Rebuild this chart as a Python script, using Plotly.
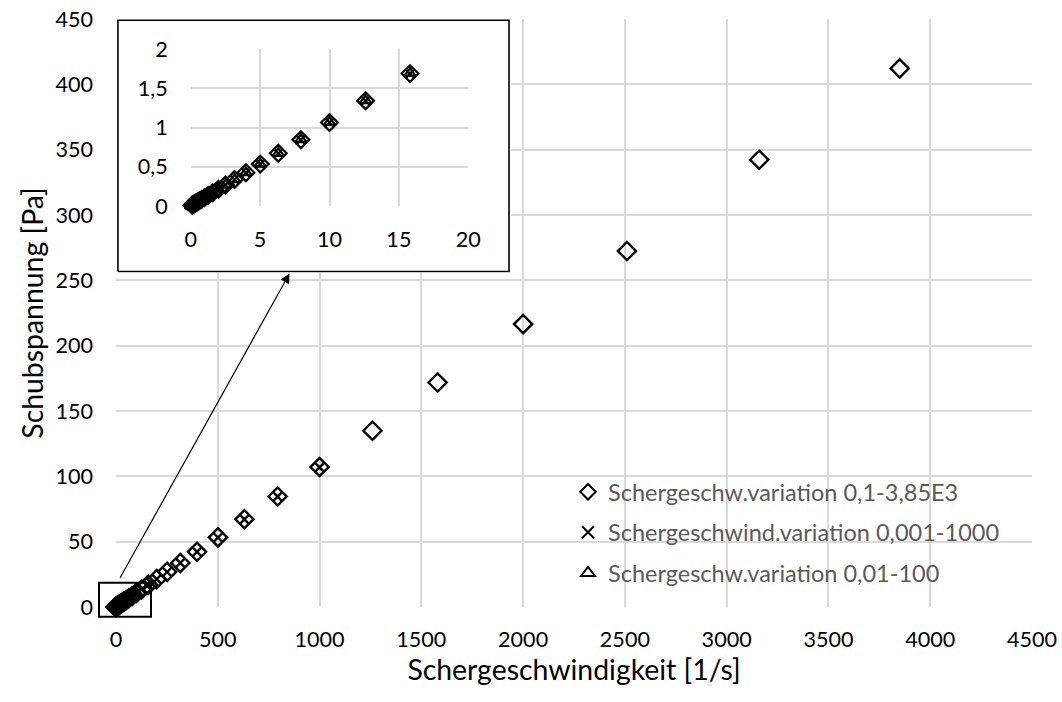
import plotly.graph_objects as go

# ---------------- data ----------------
# Series 1: Schergeschw.variation 0,1-3,85E3  (diamonds)
rate_d = [0.1, 0.126, 0.158, 0.2, 0.251, 0.316, 0.398, 0.501, 0.631, 0.794,
          1, 1.26, 1.58, 2, 2.51, 3.16, 3.98, 5.01, 6.31, 7.94,
          10, 12.6, 15.8, 20, 25.1, 31.6, 39.8, 50.1, 63.1, 79.4,
          100, 126, 158, 200, 251, 316, 398, 501, 631, 794,
          1000, 1260, 1580, 2000, 2510, 3160, 3850]
stress_d = [0.011, 0.014, 0.017, 0.021, 0.027, 0.034, 0.043, 0.054, 0.068, 0.085,
            0.107, 0.135, 0.169, 0.214, 0.268, 0.338, 0.425, 0.535, 0.673, 0.846,
            1.065, 1.343, 1.69, 2.13, 2.68, 3.37, 4.24, 5.34, 6.72, 8.46,
            10.7, 13.4, 16.9, 21.3, 26.9, 33.7, 42.3, 53.3, 67.2, 84.6,
            107.1, 134.9, 171.8, 216.5, 272.4, 342.3, 412.2]

# Series 2: Schergeschwind.variation 0,001-1000  (crosses)
rate_x = [0.001, 0.00126, 0.00158, 0.002, 0.00251, 0.00316, 0.00398, 0.00501, 0.00631, 0.00794,
          0.01, 0.0126, 0.0158, 0.02, 0.0251, 0.0316, 0.0398, 0.0501, 0.0631, 0.0794,
          0.1, 0.126, 0.158, 0.2, 0.251, 0.316, 0.398, 0.501, 0.631, 0.794,
          1, 1.26, 1.58, 2, 2.51, 3.16, 3.98, 5.01, 6.31, 7.94,
          10, 12.6, 15.8, 20, 25.1, 31.6, 39.8, 50.1, 63.1, 79.4,
          100, 126, 158, 200, 251, 316, 398, 501, 631, 794, 1000]
stress_x = [0.0002, 0.0002, 0.0003, 0.0003, 0.0004, 0.0005, 0.0006, 0.0007, 0.0008, 0.0010,
            0.0012, 0.0015, 0.0018, 0.0022, 0.0028, 0.0035, 0.0044, 0.0055, 0.0069, 0.0086,
            0.0108, 0.0135, 0.0170, 0.0214, 0.0269, 0.0338, 0.0425, 0.0535, 0.0673, 0.0847,
            0.107, 0.134, 0.169, 0.213, 0.268, 0.337, 0.424, 0.534, 0.672, 0.846,
            1.066, 1.342, 1.689, 2.13, 2.68, 3.37, 4.24, 5.33, 6.72, 8.45,
            10.6, 13.4, 16.9, 21.3, 26.8, 33.7, 42.2, 53.2, 67.1, 84.5, 106.8]

# Series 3: Schergeschw.variation 0,01-100  (triangles)
rate_t = [0.01, 0.0126, 0.0158, 0.02, 0.0251, 0.0316, 0.0398, 0.0501, 0.0631, 0.0794,
          0.1, 0.126, 0.158, 0.2, 0.251, 0.316, 0.398, 0.501, 0.631, 0.794,
          1, 1.26, 1.58, 2, 2.51, 3.16, 3.98, 5.01, 6.31, 7.94,
          10, 12.6, 15.8, 20, 25.1, 31.6, 39.8, 50.1, 63.1, 79.4, 100]
stress_t = [0.0013, 0.0015, 0.0019, 0.0023, 0.0028, 0.0035, 0.0044, 0.0055, 0.0069, 0.0086,
            0.0108, 0.0136, 0.0171, 0.0215, 0.0270, 0.0339, 0.0426, 0.0536, 0.0674, 0.0848,
            0.107, 0.135, 0.170, 0.214, 0.269, 0.338, 0.425, 0.536, 0.673, 0.848,
            1.068, 1.345, 1.692, 2.13, 2.68, 3.38, 4.25, 5.35, 6.73, 8.47, 10.7]

series_names = ["Schergeschw.variation 0,1-3,85E3",
                "Schergeschwind.variation 0,001-1000",
                "Schergeschw.variation 0,01-100"]

x_title = "Schergeschwindigkeit [1/s]"
y_title = "Schubspannung [Pa]"
inset_y_ticks = [0, 0.5, 1, 1.5, 2]
inset_y_labels = ["0", "0,5", "1", "1,5", "2"]

INSET_MAX = 20

FONT = "Lato"
GRID = "#d9d9d9"
TICKSZ = 21.6

series = [
    (rate_d, stress_d, "diamond-open", 14, series_names[0]),
    (rate_x, stress_x, "x-thin-open", 8, series_names[1]),
    (rate_t, stress_t, "triangle-up-open", 11, series_names[2]),
]

fig = go.Figure()

# main chart series
for i, (xs, ys, sym, sz, nm) in enumerate(series):
    fig.add_trace(go.Scatter(
        x=xs, y=ys, mode="markers", name=nm,
        legendgroup="g%d" % i,
        marker=dict(symbol=sym, size=sz, color="black",
                    line=dict(color="black", width=2.4)),
        cliponaxis=False, xaxis="x", yaxis="y"))

# inset frame (white box with black border)
fig.add_trace(go.Scatter(
    x=[0, 1, 1, 0, 0], y=[0, 0, 1, 1, 0], mode="lines", fill="toself",
    fillcolor="white", line=dict(color="black", width=1.6),
    hoverinfo="skip", showlegend=False, xaxis="x2", yaxis="y2"))

# inset series
for i, (xs, ys, sym, sz, nm) in enumerate(series):
    sx = [a for a in xs if a <= INSET_MAX]
    sy = [b for a, b in zip(xs, ys) if a <= INSET_MAX]
    fig.add_trace(go.Scatter(
        x=sx, y=sy, mode="markers", name=nm, showlegend=False,
        marker=dict(symbol=sym, size=sz * 0.92, color="black",
                    line=dict(color="black", width=2.2)),
        cliponaxis=False, xaxis="x3", yaxis="y3"))

W, H = 1062, 702
ML, MR, MT, MB = 116, 30, 19, 95
PW, PH = W - ML - MR, H - MT - MB


def px_x(p):
    return (p - ML) / PW


def px_y(p):
    return (H - MB - p) / PH


tick_font = dict(family=FONT, size=TICKSZ, color="black")

fig.update_layout(
    width=W, height=H,
    margin=dict(l=ML, r=MR, t=MT, b=MB, autoexpand=False),
    paper_bgcolor="white", plot_bgcolor="white",
    font=dict(family=FONT, color="black"),
    separators=",.",
    xaxis=dict(range=[0, 4500], dtick=500, showgrid=True, gridcolor=GRID, gridwidth=1.5,
               zeroline=False, showline=False, ticks="", tickfont=tick_font,
               ticklabelstandoff=17, automargin=True,
               title=dict(text=x_title, font=dict(family=FONT, size=28.4, color="black"),
                          standoff=0)),
    yaxis=dict(range=[0, 450], dtick=50, showgrid=True, gridcolor=GRID, gridwidth=1.5,
               zeroline=False, showline=False, ticks="", tickfont=tick_font,
               ticklabelstandoff=22, automargin=True,
               title=dict(text=y_title, font=dict(family=FONT, size=28.4, color="black"),
                          standoff=3)),
    xaxis2=dict(domain=[0, px_x(511)], range=[-0.005, 1.005], visible=False,
                fixedrange=True, automargin=False),
    yaxis2=dict(domain=[px_y(272.7), 1.0], range=[-0.005, 1.005], visible=False,
                fixedrange=True, automargin=False),
    xaxis3=dict(domain=[px_x(190.7), px_x(468.3)], range=[0, 20], dtick=5,
                showgrid=True, gridcolor=GRID, gridwidth=1.5, zeroline=False,
                showline=False, ticks="", tickfont=tick_font, ticklabelstandoff=18,
                anchor="y3", automargin=False),
    yaxis3=dict(domain=[px_y(206), px_y(49.3)], range=[0, 2],
                tickvals=inset_y_ticks, ticktext=inset_y_labels,
                showgrid=True, gridcolor=GRID, gridwidth=1.5, zeroline=False,
                showline=False, ticks="", tickfont=tick_font, ticklabelstandoff=22,
                anchor="x3", automargin=False),
    legend=dict(x=px_x(568), y=px_y(470), xanchor="left", yanchor="top",
                bgcolor="rgba(0,0,0,0)", borderwidth=0, itemsizing="constant",
                font=dict(family=FONT, size=23.5, color="#595959"),
                traceorder="grouped", tracegroupgap=7),
    showlegend=True,
)

# small rectangle around the origin cluster
fig.add_shape(type="rect", xref="paper", yref="paper",
              x0=px_x(99), x1=px_x(151), y0=px_y(616.7), y1=px_y(582.7),
              line=dict(color="black", width=2), fillcolor="rgba(0,0,0,0)", layer="above")

# arrow from the origin box to the inset
fig.add_annotation(xref="paper", yref="paper", x=px_x(289.5), y=px_y(273.5),
                   ax=119.3 - 289.5, ay=579.3 - 273.5, axref="pixel", ayref="pixel",
                   text="", showarrow=True, arrowhead=2, arrowsize=1.6,
                   arrowwidth=1.2, arrowcolor="black")

fig.write_html("out.html")
